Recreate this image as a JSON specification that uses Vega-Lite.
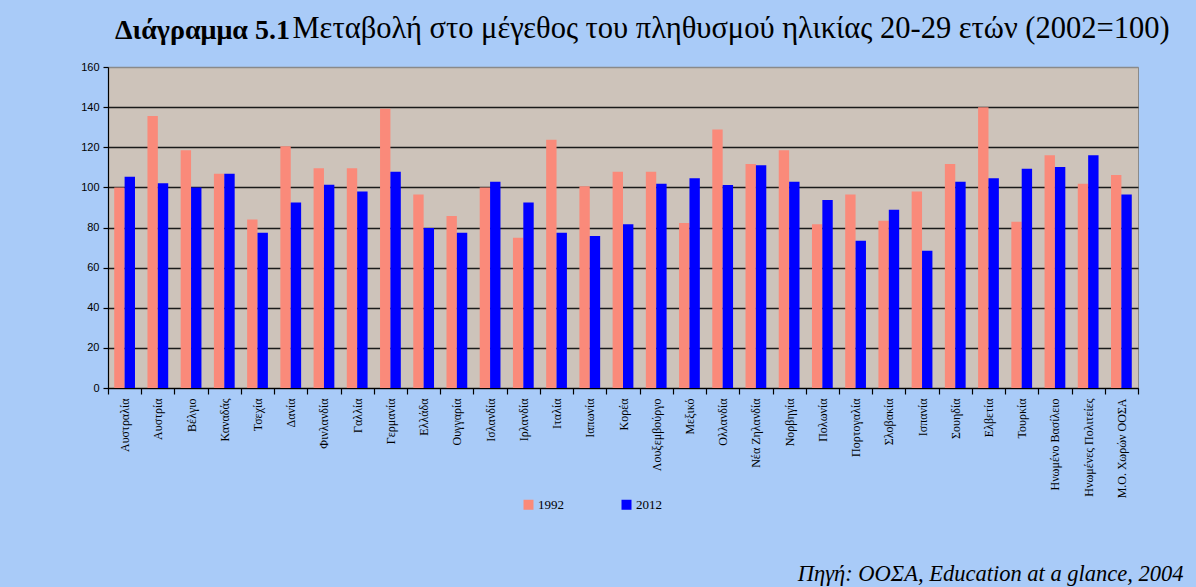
{
  "$schema": "https://vega.github.io/schema/vega-lite/v6.json",
  "width": 1030,
  "height": 321,
  "autosize": {"type": "none"},
  "padding": {"left": 108, "top": 67, "right": 58, "bottom": 199},
  "background": "#A9CBF8",
  "title": {
    "text": "Διάγραμμα 5.1",
    "anchor": "start",
    "frame": "group",
    "dx": 7,
    "dy": 54,
    "font": "Liberation Serif, serif",
    "fontSize": 28,
    "fontWeight": "bold",
    "color": "black",
    "baseline": "alphabetic",
    "offset": 0
  },
  "data": {
    "values": [
      {"country": "Αυστραλία", "year": "1992", "value": 100},
      {"country": "Αυστραλία", "year": "2012", "value": 105.3},
      {"country": "Αυστρία", "year": "1992", "value": 135.6},
      {"country": "Αυστρία", "year": "2012", "value": 102},
      {"country": "Βέλγιο", "year": "1992", "value": 118.5},
      {"country": "Βέλγιο", "year": "2012", "value": 100},
      {"country": "Καναδάς", "year": "1992", "value": 106.8},
      {"country": "Καναδάς", "year": "2012", "value": 106.8},
      {"country": "Τσεχία", "year": "1992", "value": 84},
      {"country": "Τσεχία", "year": "2012", "value": 77.4},
      {"country": "Δανία", "year": "1992", "value": 120.5},
      {"country": "Δανία", "year": "2012", "value": 92.4},
      {"country": "Φινλανδία", "year": "1992", "value": 109.5},
      {"country": "Φινλανδία", "year": "2012", "value": 101.3},
      {"country": "Γαλλία", "year": "1992", "value": 109.5},
      {"country": "Γαλλία", "year": "2012", "value": 98},
      {"country": "Γερμανία", "year": "1992", "value": 139.2},
      {"country": "Γερμανία", "year": "2012", "value": 107.8},
      {"country": "Ελλάδα", "year": "1992", "value": 96.4},
      {"country": "Ελλάδα", "year": "2012", "value": 79.7},
      {"country": "Ουγγαρία", "year": "1992", "value": 85.7},
      {"country": "Ουγγαρία", "year": "2012", "value": 77.4},
      {"country": "Ισλανδία", "year": "1992", "value": 100},
      {"country": "Ισλανδία", "year": "2012", "value": 102.8},
      {"country": "Ιρλανδία", "year": "1992", "value": 74.9},
      {"country": "Ιρλανδία", "year": "2012", "value": 92.4},
      {"country": "Ιταλία", "year": "1992", "value": 123.8},
      {"country": "Ιταλία", "year": "2012", "value": 77.4},
      {"country": "Ιαπωνία", "year": "1992", "value": 100.5},
      {"country": "Ιαπωνία", "year": "2012", "value": 75.8},
      {"country": "Κορέα", "year": "1992", "value": 107.8},
      {"country": "Κορέα", "year": "2012", "value": 81.6},
      {"country": "Λουξεμβούργο", "year": "1992", "value": 107.8},
      {"country": "Λουξεμβούργο", "year": "2012", "value": 101.8},
      {"country": "Μεξικό", "year": "1992", "value": 82.2},
      {"country": "Μεξικό", "year": "2012", "value": 104.5},
      {"country": "Ολλανδία", "year": "1992", "value": 128.9},
      {"country": "Ολλανδία", "year": "2012", "value": 101.2},
      {"country": "Νέα Ζηλανδία", "year": "1992", "value": 111.6},
      {"country": "Νέα Ζηλανδία", "year": "2012", "value": 111},
      {"country": "Νορβηγία", "year": "1992", "value": 118.5},
      {"country": "Νορβηγία", "year": "2012", "value": 102.8},
      {"country": "Πολωνία", "year": "1992", "value": 81.6},
      {"country": "Πολωνία", "year": "2012", "value": 93.7},
      {"country": "Πορτογαλία", "year": "1992", "value": 96.4},
      {"country": "Πορτογαλία", "year": "2012", "value": 73.4},
      {"country": "Σλοβακία", "year": "1992", "value": 83.4},
      {"country": "Σλοβακία", "year": "2012", "value": 88.9},
      {"country": "Ισπανία", "year": "1992", "value": 97.9},
      {"country": "Ισπανία", "year": "2012", "value": 68.4},
      {"country": "Σουηδία", "year": "1992", "value": 111.6},
      {"country": "Σουηδία", "year": "2012", "value": 102.8},
      {"country": "Ελβετία", "year": "1992", "value": 140},
      {"country": "Ελβετία", "year": "2012", "value": 104.5},
      {"country": "Τουρκία", "year": "1992", "value": 82.9},
      {"country": "Τουρκία", "year": "2012", "value": 109.3},
      {"country": "Ηνωμένο Βασίλειο", "year": "1992", "value": 116},
      {"country": "Ηνωμένο Βασίλειο", "year": "2012", "value": 110.2},
      {"country": "Ηνωμένες Πολιτείες", "year": "1992", "value": 101.8},
      {"country": "Ηνωμένες Πολιτείες", "year": "2012", "value": 116},
      {"country": "Μ.Ο. Χωρών ΟΟΣΑ", "year": "1992", "value": 106.2},
      {"country": "Μ.Ο. Χωρών ΟΟΣΑ", "year": "2012", "value": 96.4}
    ]
  },
  "mark": {"type": "bar"},
  "encoding": {
    "x": {
      "field": "country",
      "type": "nominal",
      "sort": null,
      "scale": {"paddingInner": 0, "paddingOuter": 0},
      "axis": {
        "title": "Πηγή: ΟΟΣΑ, Education at a glance, 2004",
        "titleFont": "Liberation Serif, serif",
        "titleFontStyle": "italic",
        "titleFontWeight": "normal",
        "titleFontSize": 22.5,
        "titleColor": "black",
        "titleAnchor": "end",
        "titleAlign": "right",
        "titleBaseline": "alphabetic",
        "titleX": 1075,
        "titleY": 192,
        "labelAngle": -90,
        "labelFont": "Liberation Serif, serif",
        "labelFontSize": 12,
        "labelColor": "black",
        "labelPadding": 4,
        "labelLimit": 0,
        "tickBand": "extent",
        "tickSize": 6,
        "tickColor": "black",
        "tickWidth": 1.2,
        "domainColor": "black",
        "domainWidth": 1.2,
        "grid": false
      }
    },
    "xOffset": {
      "field": "year",
      "type": "nominal",
      "scale": {"paddingInner": 0, "paddingOuter": 0.6}
    },
    "y": {
      "field": "value",
      "type": "quantitative",
      "scale": {"domain": [0, 160], "nice": false},
      "axis": {
        "title": "Μεταβολή στο μέγεθος του πληθυσμού ηλικίας 20-29 ετών (2002=100)",
        "titleAngle": 0,
        "titleX": 184,
        "titleY": -30,
        "titleAlign": "left",
        "titleBaseline": "alphabetic",
        "titleFont": "Liberation Serif, serif",
        "titleFontSize": 30.5,
        "titleFontWeight": "normal",
        "titleColor": "black",
        "values": [0, 20, 40, 60, 80, 100, 120, 140, 160],
        "grid": true,
        "gridColor": {"condition": {"test": "datum.value === 160", "value": "#8a8a8a"}, "value": "#1a1a1a"},
        "gridWidth": 1.5,
        "labelFont": "Liberation Sans",
        "labelFontSize": 11,
        "labelColor": "black",
        "labelPadding": 4,
        "tickColor": "black",
        "tickSize": 5,
        "tickWidth": 1.2,
        "domainColor": "black",
        "domainWidth": 1.2
      }
    },
    "color": {
      "field": "year",
      "type": "nominal",
      "scale": {"domain": ["1992", "2012"], "range": ["#FA8A7A", "#0000FF"]},
      "legend": {
        "orient": "none",
        "legendX": 414,
        "legendY": 431,
        "direction": "horizontal",
        "title": null,
        "symbolType": "square",
        "symbolSize": 100,
        "symbolStrokeWidth": 0,
        "labelFont": "Liberation Serif, serif",
        "labelFontSize": 13,
        "labelColor": "black",
        "labelOffset": 3,
        "columnPadding": 56
      }
    }
  },
  "config": {
    "view": {"fill": "#CDC3BA", "stroke": "#8a8a8a"}
  }
}
